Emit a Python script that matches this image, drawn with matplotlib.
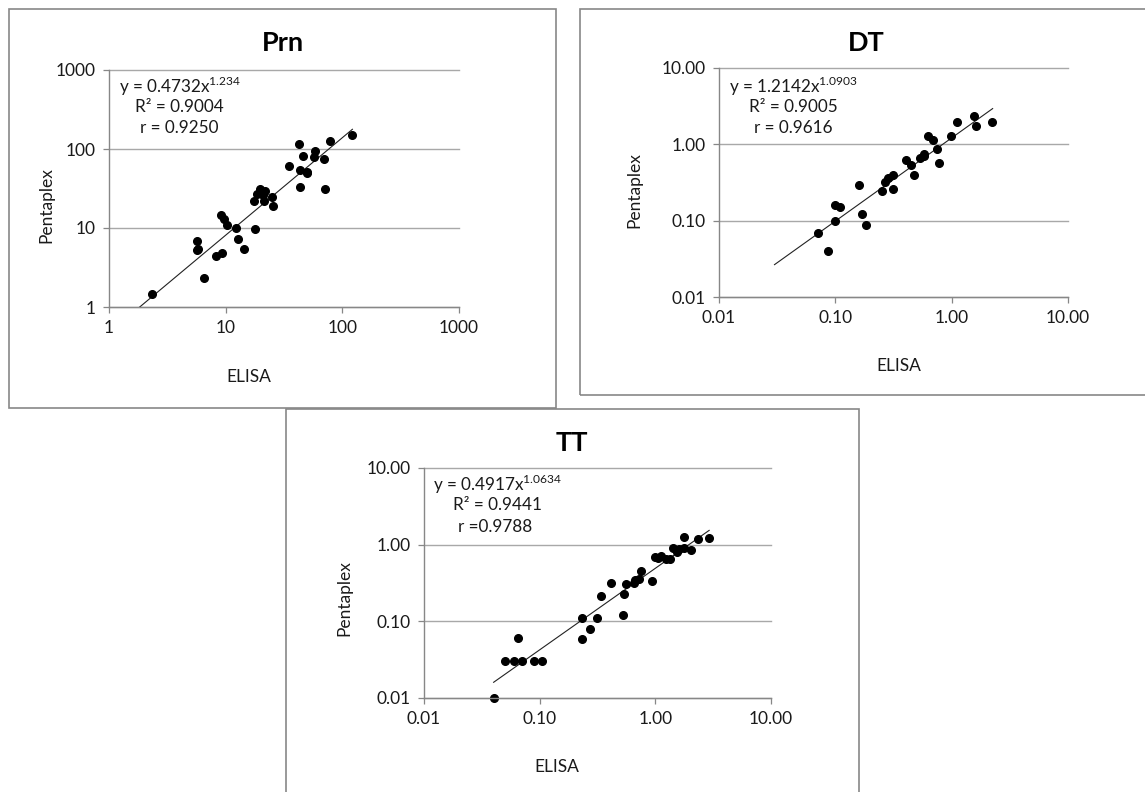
import matplotlib.pyplot as plt
from matplotlib.patches import Rectangle
import numpy as np

plt.rcParams['font.family'] = ['Lato', 'DejaVu Sans']
plt.rcParams['mathtext.fontset'] = 'custom'
plt.rcParams['mathtext.rm'] = 'Lato'

# Prn
prn_elisa = [2.35, 5.68, 5.64, 5.82, 6.52, 8.26, 9.25, 9.06, 9.74, 10.3, 12.3, 12.8,
             14.3, 17.8, 17.4, 18.4, 19.6, 21.6, 20.7, 21.5, 25.2, 25.7, 35.0, 42.9,
             45.9, 43.5, 43.0, 50.0, 49.6, 58.6, 57.5, 69.1, 71.5, 78.9, 121]
prn_penta = [1.48, 6.9, 5.2, 5.35, 2.35, 4.44, 4.89, 14.8, 13.0, 10.9, 10.1, 7.16,
             5.4, 9.8, 21.7, 26.7, 31.5, 29.6, 26.1, 21.7, 24.9, 19.1, 61.8, 114.7,
             81.5, 54.5, 33.3, 51.4, 49.4, 94.3, 79.8, 73.8, 31.2, 127.8, 151]
prn_fit = (0.4732, 1.234)
prn_range = (1.83, 122)

# DT
dt_elisa = [0.071, 0.086, 0.10, 0.10, 0.110, 0.161, 0.171, 0.182, 0.250, 0.265, 0.284,
            0.311, 0.315, 0.405, 0.444, 0.471, 0.538, 0.574, 0.582, 0.626, 0.692, 0.743,
            0.778, 0.99, 1.12, 1.56, 1.61, 2.22]
dt_penta = [0.069, 0.040, 0.10, 0.160, 0.152, 0.296, 0.121, 0.089, 0.242, 0.318, 0.362,
            0.401, 0.260, 0.617, 0.531, 0.393, 0.656, 0.697, 0.740, 1.30, 1.13, 0.869,
            0.569, 1.30, 1.94, 2.37, 1.74, 1.98]
dt_fit = (1.2142, 1.0903)
dt_range = (0.030, 2.25)

# TT
tt_elisa = [0.040, 0.050, 0.060, 0.065, 0.071, 0.090, 0.105, 0.230, 0.230, 0.273, 0.312,
            0.340, 0.413, 0.521, 0.539, 0.561, 0.649, 0.671, 0.727, 0.746, 0.942, 1.0,
            1.06, 1.11, 1.23, 1.35, 1.41, 1.53, 1.59, 1.76, 1.77, 2.05, 2.33, 2.90]
tt_penta = [0.010, 0.030, 0.030, 0.060, 0.030, 0.030, 0.030, 0.110, 0.059, 0.080, 0.110,
            0.212, 0.320, 0.122, 0.230, 0.305, 0.314, 0.344, 0.361, 0.447, 0.337, 0.695,
            0.668, 0.71, 0.655, 0.655, 0.913, 0.809, 0.869, 1.27, 0.904, 0.860, 1.19, 1.21]
tt_fit = (0.4917, 1.0634)
tt_range = (0.040, 2.92)

prn_ticks = [1, 10, 100, 1000]
prn_labels = ['1', '10', '100', '1000']
log_ticks = [0.01, 0.1, 1, 10]
log_labels = ['0.01', '0.10', '1.00', '10.00']

W, H = 1145, 792
fig = plt.figure(figsize=(W / 100, H / 100), dpi=100)


def fx(px):
    return px / W


def fy(py):
    return 1 - py / H


def box(x0, y0, x1, y1):
    fig.add_artist(Rectangle((fx(x0), fy(y1)), fx(x1 - x0), (y1 - y0) / H,
                             transform=fig.transFigure, fill=False,
                             edgecolor='#878787', linewidth=1.2))


def panel(ax_px, xs, ys, fit, rng, ticks, labels, title, title_xy,
          eq, eq_xy, elisa_xy, penta_xy):
    l, t, r, b = ax_px
    ax = fig.add_axes([fx(l), fy(b), fx(r - l), (b - t) / H])
    ax.set_xscale('log')
    ax.set_yscale('log')
    ax.set_xlim(ticks[0], ticks[-1])
    ax.set_ylim(ticks[0], ticks[-1])
    ax.set_xticks(ticks, labels)
    ax.set_yticks(ticks, labels)
    ax.minorticks_off()
    ax.tick_params(direction='out', length=4.5, width=0.9, color='#878787',
                   labelsize=12.5, labelcolor='#1a1a1a', pad=5)
    for s in ['top', 'right']:
        ax.spines[s].set_visible(False)
    for s in ['left', 'bottom']:
        ax.spines[s].set_color('#878787')
        ax.spines[s].set_linewidth(1.0)
    ax.yaxis.grid(True, color='#a8a8a8', linewidth=1.0)
    ax.set_axisbelow(True)
    for tk in ax.yaxis.get_major_ticks():
        tk.gridline.set_clip_on(False)

    a, k = fit
    xl = np.geomspace(rng[0], rng[1], 60)
    ax.plot(xl, a * xl ** k, color='#222222', linewidth=0.8)
    ax.plot(xs, ys, 'o', color='black', markersize=5.5, clip_on=False)

    fig.text(fx(title_xy[0]), fy(title_xy[1]), title, ha='center', va='center',
             fontsize=19.5, fontweight='bold')
    for (x, y), line in zip(eq_xy, eq):
        fig.text(fx(x), fy(y), line, ha='left', va='center', fontsize=12.3,
                 color='#1a1a1a')
    fig.text(fx(elisa_xy[0]), fy(elisa_xy[1]), 'ELISA', ha='center', va='center',
             fontsize=12.5, color='#1a1a1a')
    fig.text(fx(penta_xy[0]), fy(penta_xy[1]), 'Pentaplex', ha='center', va='center',
             fontsize=12.5, color='#1a1a1a', rotation=90)


box(9, 9, 556, 408)
box(580, 9, 1160, 395)
box(286, 409, 859, 810)

panel((109, 70, 459, 307), prn_elisa, prn_penta, prn_fit, prn_range,
      prn_ticks, prn_labels, 'Prn', (283, 43),
      [r'y = 0.4732x$^{\mathregular{1.234}}$', 'R² = 0.9004', 'r = 0.9250'],
      [(119, 86), (135, 107), (140, 128)], (249, 377), (46, 205))

panel((719, 68, 1068, 297), dt_elisa, dt_penta, dt_fit, dt_range,
      log_ticks, log_labels, 'DT', (866, 43),
      [r'y = 1.2142x$^{\mathregular{1.0903}}$', 'R² = 0.9005', 'r = 0.9616'],
      [(729, 86), (749, 107), (754, 128)], (899, 366), (634, 190))

panel((424, 468, 771, 698), tt_elisa, tt_penta, tt_fit, tt_range,
      log_ticks, log_labels, 'TT', (572, 443),
      [r'y = 0.4917x$^{\mathregular{1.0634}}$', 'R² = 0.9441', 'r =0.9788'],
      [(433, 484), (453, 505), (458, 527)], (557, 767), (344, 598))

fig.savefig('out.png', dpi=100)
